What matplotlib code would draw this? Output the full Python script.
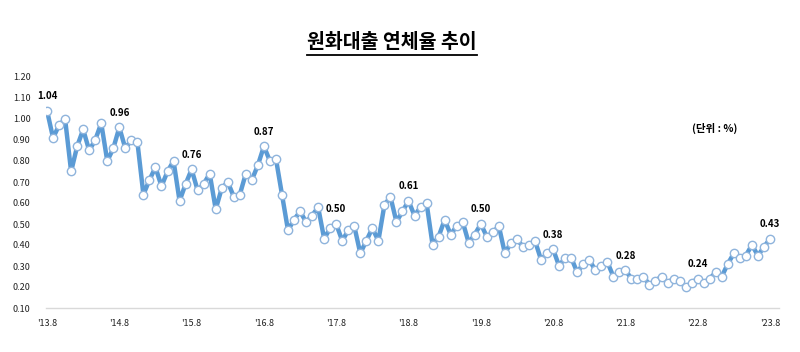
import matplotlib
matplotlib.use('Agg')
import matplotlib.pyplot as plt
from matplotlib.lines import Line2D

plt.rcParams['font.family'] = ['Noto Sans CJK KR', 'DejaVu Sans']

# monthly delinquency rate, '13.8 .. '23.8
rates = [
    1.04, 0.91, 0.97, 1.00, 0.75, 0.87, 0.95, 0.85, 0.90, 0.98, 0.80, 0.86,
    0.96, 0.86, 0.90, 0.89, 0.64, 0.71, 0.77, 0.68, 0.75, 0.80, 0.61, 0.69,
    0.76, 0.66, 0.69, 0.74, 0.57, 0.67, 0.70, 0.63, 0.64, 0.74, 0.71, 0.78,
    0.87, 0.80, 0.81, 0.64, 0.47, 0.52, 0.56, 0.51, 0.54, 0.58, 0.43, 0.48,
    0.50, 0.42, 0.47, 0.49, 0.36, 0.42, 0.48, 0.42, 0.59, 0.63, 0.51, 0.56,
    0.61, 0.54, 0.58, 0.60, 0.40, 0.44, 0.52, 0.45, 0.49, 0.51, 0.41, 0.45,
    0.50, 0.44, 0.46, 0.49, 0.36, 0.41, 0.43, 0.39, 0.40, 0.42, 0.33, 0.36,
    0.38, 0.30, 0.34, 0.34, 0.27, 0.31, 0.33, 0.28, 0.30, 0.32, 0.25, 0.27,
    0.28, 0.24, 0.24, 0.25, 0.21, 0.23, 0.25, 0.22, 0.24, 0.23, 0.20, 0.22,
    0.24, 0.22, 0.24, 0.27, 0.25, 0.31, 0.36, 0.34, 0.35, 0.40, 0.35, 0.39,
    0.43,
]
tick_labels = ["'13.8", "'14.8", "'15.8", "'16.8", "'17.8", "'18.8",
               "'19.8", "'20.8", "'21.8", "'22.8", "'23.8"]
# every August gets a value label
label_idx = list(range(0, len(rates), 12))

x = list(range(len(rates)))

fig = plt.figure(figsize=(8, 3.52), dpi=100)
ax = fig.add_axes([46 / 800, 44 / 352, 733 / 800, 231 / 352])

ax.plot(x, rates, color='#5B9BD5', linewidth=3.2, marker='o', markersize=6,
        markerfacecolor='white', markeredgecolor='#8FB4DC', markeredgewidth=1,
        zorder=3)

for i in label_idx:
    ax.annotate('{:.2f}'.format(rates[i]), (x[i], rates[i]), xytext=(0, 10.5),
                textcoords='offset points', ha='center', va='center',
                fontsize=7, fontweight='bold', color='black')

ax.set_xlim(-0.17, 121.5)
ax.set_ylim(0.10, 1.20)
ax.set_yticks([i / 10 for i in range(1, 13)])
ax.set_yticklabels(['{:.2f}'.format(i / 10) for i in range(1, 13)])
ax.set_xticks(label_idx)
ax.set_xticklabels(tick_labels)
ax.tick_params(axis='y', length=0, pad=11, labelsize=6.5, colors='#222222')
ax.tick_params(axis='x', length=0, pad=8, labelsize=6.5, colors='#222222')

for side in ['top', 'right', 'left']:
    ax.spines[side].set_visible(False)
ax.spines['bottom'].set_color('#D9D9D9')
ax.spines['bottom'].set_linewidth(1)

title = fig.text(0.49, 1 - 43 / 352, '원화대출 연체율 추이', ha='center', va='center',
                 fontsize=14, fontweight='bold')
fig.text(715 / 800, 1 - 128 / 352, '(단위 : %)', ha='center', va='center',
         fontsize=7.5, fontweight='bold')

# underline the title
fig.canvas.draw()
bb = title.get_window_extent().transformed(fig.transFigure.inverted())
uy = bb.y0 - 2 / 352
fig.add_artist(Line2D([bb.x0, bb.x1], [uy, uy], color='black', linewidth=1.3,
                      transform=fig.transFigure))

fig.savefig('out.png', dpi=100)
